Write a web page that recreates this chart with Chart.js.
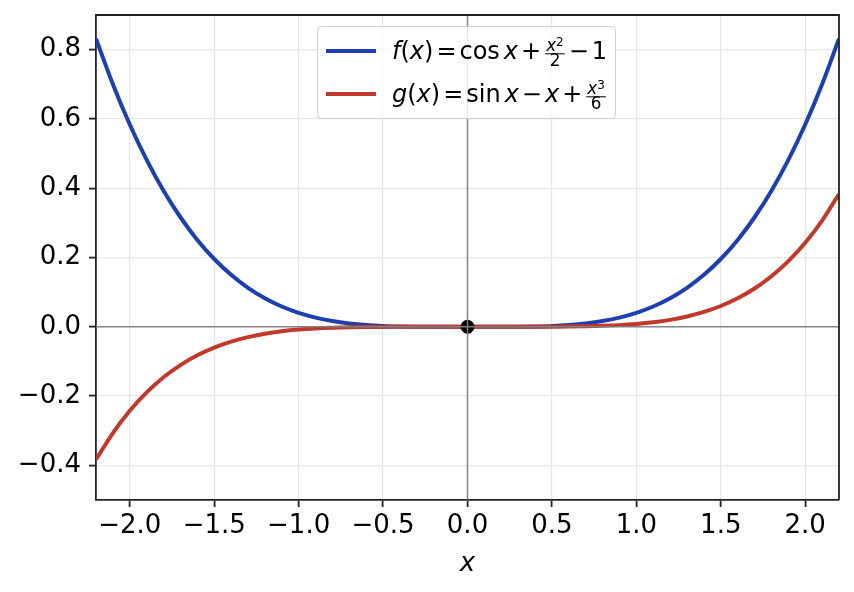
<!DOCTYPE html>
<html>
<head>
<meta charset="utf-8">
<script src="https://cdn.jsdelivr.net/npm/chart.js@4.4.1/dist/chart.umd.min.js"></script>
<style>
  html, body { margin: 0; padding: 0; background: #fff; }
  #myChart { display: block; }
</style>
</head>
<body>
<canvas id="myChart" width="854" height="592"></canvas>
<script>
// values, step 0.1
const xValues = [-2.2, -2.1, -2.0, -1.9, -1.8, -1.7, -1.6, -1.5, -1.4, -1.3, -1.2, -1.1, -1.0,
  -0.9, -0.8, -0.7, -0.6, -0.5, -0.4, -0.3, -0.2, -0.1, 0.0, 0.1, 0.2, 0.3, 0.4, 0.5, 0.6,
  0.7, 0.8, 0.9, 1.0, 1.1, 1.2, 1.3, 1.4, 1.5, 1.6, 1.7, 1.8, 1.9, 2.0, 2.1, 2.2]

const fValues = [0.8315, 0.7002, 0.5839, 0.4817, 0.3928, 0.3162, 0.2508, 0.1957, 0.1500, 0.1125,
  0.0824, 0.0586, 0.0403, 0.0266, 0.0167, 0.0098, 0.0053, 0.0026, 0.0011, 0.0003, 0.0001, 0.0000,
  0.0, 0.0000, 0.0001, 0.0003, 0.0011, 0.0026, 0.0053, 0.0098, 0.0167, 0.0266, 0.0403, 0.0586,
  0.0824, 0.1125, 0.1500, 0.1957, 0.2508, 0.3162, 0.3928, 0.4817, 0.5839, 0.7002, 0.8315]

const gValues = [-0.3832, -0.3067, -0.2426, -0.1895, -0.1458, -0.1105, -0.0822, -0.0600, -0.0428,
  -0.0297, -0.0200, -0.0130, -0.0081, -0.0048, -0.0027, -0.0014, -0.0006, -0.0003, -0.0001, 0.0,
  0.0, 0.0, 0.0, 0.0, 0.0, 0.0, 0.0001, 0.0003, 0.0006, 0.0014, 0.0027, 0.0048, 0.0081, 0.0130,
  0.0200, 0.0297, 0.0428, 0.0600, 0.0822, 0.1105, 0.1458, 0.1895, 0.2426, 0.3067, 0.3832]

const dotX = [0]
const dotY = [0]

const xTicks = [-2.0, -1.5, -1.0, -0.5, 0.0, 0.5, 1.0, 1.5, 2.0]
const yTicks = [-0.4, -0.2, 0.0, 0.2, 0.4, 0.6, 0.8]

const seriesNames = ['f(x) = cos x + x²/2 − 1', 'g(x) = sin x − x + x³/6']
const seriesColors = ['#1e40af', '#c0392b']

const FONT = '"DejaVu Sans", sans-serif'

function pts(xs, ys) {
  return xs.map((x, i) => ({ x: x, y: ys[i] }))
}

function fmt(v) {
  return v.toFixed(1).replace('-', '\u2212')
}

// legend rows, mathtext style
const legendRows = [
  [{t: 'f', it: 1}, {t: '('}, {t: 'x', it: 1}, {t: ')'}, {gap: 3}, {t: '='}, {gap: 3}, {t: 'cos'},
   {gap: 4}, {t: 'x', it: 1}, {gap: 3}, {t: '+'}, {gap: 3}, {frac: 1, num: 'x', sup: '2', den: '2'},
   {gap: 3}, {t: '\u2212'}, {gap: 3}, {t: '1'}],
  [{t: 'g', it: 1}, {t: '('}, {t: 'x', it: 1}, {t: ')'}, {gap: 3}, {t: '='}, {gap: 3}, {t: 'sin'},
   {gap: 4}, {t: 'x', it: 1}, {gap: 3}, {t: '\u2212'}, {gap: 3}, {t: 'x', it: 1}, {gap: 3}, {t: '+'},
   {gap: 3}, {frac: 1, num: 'x', sup: '3', den: '6'}]
]

function drawFrac(ctx, p, x, base, size) {
  const fs = size * 0.7
  ctx.font = 'italic ' + fs + 'px ' + FONT
  const wx = ctx.measureText(p.num).width
  ctx.font = (size * 0.5) + 'px ' + FONT
  const ws = ctx.measureText(p.sup).width
  ctx.font = fs + 'px ' + FONT
  const wd = ctx.measureText(p.den).width
  const numW = wx + ws
  const w = Math.max(numW, wd) + 2
  ctx.fillRect(x + 1, base - 5.5, w, 1)
  const nx = x + 1 + (w - numW) / 2
  ctx.font = 'italic ' + fs + 'px ' + FONT
  ctx.fillText(p.num, nx, base - 7.8)
  ctx.font = (size * 0.5) + 'px ' + FONT
  ctx.fillText(p.sup, nx + wx, base - 13.1)
  ctx.font = fs + 'px ' + FONT
  ctx.fillText(p.den, x + 1 + (w - wd) / 2, base + 7.5)
  return x + w + 2
}

function drawMath(ctx, parts, x, base, size) {
  parts.forEach(p => {
    if (p.gap) { x += p.gap; return }
    if (p.frac) { x = drawFrac(ctx, p, x, base, size); return }
    ctx.font = (p.it ? 'italic ' : '') + size + 'px ' + FONT
    ctx.fillText(p.t, x, base)
    x += ctx.measureText(p.t).width
  })
}

const framePlugin = {
  id: 'frame',
  afterDatasetsDraw(chart) {
    const ctx = chart.ctx
    const a = chart.chartArea
    const x0 = chart.scales.x.getPixelForValue(0)
    const y0 = chart.scales.y.getPixelForValue(0)
    ctx.save()
    ctx.strokeStyle = 'rgba(128,128,128,0.95)'
    ctx.lineWidth = 1.5
    ctx.beginPath()
    ctx.moveTo(a.left, y0); ctx.lineTo(a.right, y0)
    ctx.moveTo(x0, a.top); ctx.lineTo(x0, a.bottom)
    ctx.stroke()
    ctx.restore()
  },
  afterDraw(chart) {
    const ctx = chart.ctx
    const a = chart.chartArea
    ctx.save()
    // top and right spines
    ctx.strokeStyle = '#222'
    ctx.lineWidth = 1.8
    ctx.beginPath()
    ctx.moveTo(a.left, a.top); ctx.lineTo(a.right, a.top); ctx.lineTo(a.right, a.bottom)
    ctx.stroke()

    // legend box, slightly see-through like matplotlib
    const bx = 317.5, by = 26.5, bw = 298, bh = 92
    ctx.fillStyle = 'rgba(255,255,255,0.8)'
    ctx.strokeStyle = '#d0d0d0'
    ctx.lineWidth = 1
    ctx.beginPath()
    ctx.roundRect(bx, by, bw, bh, 4)
    ctx.fill()
    ctx.stroke()

    const rowY = [51, 94]
    legendRows.forEach((row, i) => {
      ctx.strokeStyle = seriesColors[i]
      ctx.lineWidth = 4
      ctx.beginPath()
      ctx.moveTo(326, rowY[i]); ctx.lineTo(376, rowY[i])
      ctx.stroke()
      ctx.fillStyle = '#000'
      ctx.textBaseline = 'alphabetic'
      ctx.textAlign = 'left'
      drawMath(ctx, row, 392, rowY[i] + 7.8, 24)
    })
    ctx.restore()
  }
}

const ctx = document.getElementById('myChart')

new Chart(ctx, {
  type: 'line',
  data: {
    datasets: [
      {
        type: 'scatter',
        label: 'origin',
        data: pts(dotX, dotY),
        backgroundColor: '#000',
        borderColor: '#000',
        pointRadius: 6.5,
        pointHoverRadius: 6.5,
        order: 0
      },
      {
        label: seriesNames[1],
        data: pts(xValues, gValues),
        borderColor: seriesColors[1],
        borderWidth: 4,
        pointRadius: 0,
        fill: false,
        cubicInterpolationMode: 'monotone',
        order: 1
      },
      {
        label: seriesNames[0],
        data: pts(xValues, fValues),
        borderColor: seriesColors[0],
        borderWidth: 4,
        pointRadius: 0,
        fill: false,
        cubicInterpolationMode: 'monotone',
        order: 2
      }
    ]
  },
  options: {
    responsive: false,
    animation: false,
    devicePixelRatio: 1,
    layout: { padding: { top: 15, right: 15, left: 0, bottom: 0 } },
    plugins: {
      legend: { display: false },
      tooltip: { enabled: false }
    },
    scales: {
      x: {
        type: 'linear',
        min: -2.2,
        max: 2.2,
        afterBuildTicks: s => { s.ticks = xTicks.map(v => ({ value: v })) },
        afterFit: s => { s.height = 92; s.paddingLeft = 0; s.paddingRight = 0 },
        grid: { color: '#e6e6e6', lineWidth: 1.2, tickColor: '#222', tickLength: 7, tickWidth: 1.8 },
        border: { color: '#222', width: 1.8 },
        ticks: {
          color: '#000',
          padding: 4,
          maxRotation: 0,
          font: { family: FONT, size: 26 },
          callback: v => fmt(v)
        },
        title: {
          display: true,
          text: 'x',
          color: '#000',
          padding: { top: 0, bottom: 12 },
          font: { family: FONT, size: 26, style: 'italic' }
        }
      },
      y: {
        min: -0.5,
        max: 0.9,
        afterBuildTicks: s => { s.ticks = yTicks.map(v => ({ value: v })) },
        afterFit: s => { s.width = 96; s.paddingTop = 0; s.paddingBottom = 0 },
        grid: { color: '#e6e6e6', lineWidth: 1.2, tickColor: '#222', tickLength: 7, tickWidth: 1.8 },
        border: { color: '#222', width: 1.8 },
        ticks: {
          color: '#000',
          padding: 8,
          font: { family: FONT, size: 26 },
          callback: v => fmt(v)
        }
      }
    }
  },
  plugins: [framePlugin]
})
</script>
</body>
</html>
